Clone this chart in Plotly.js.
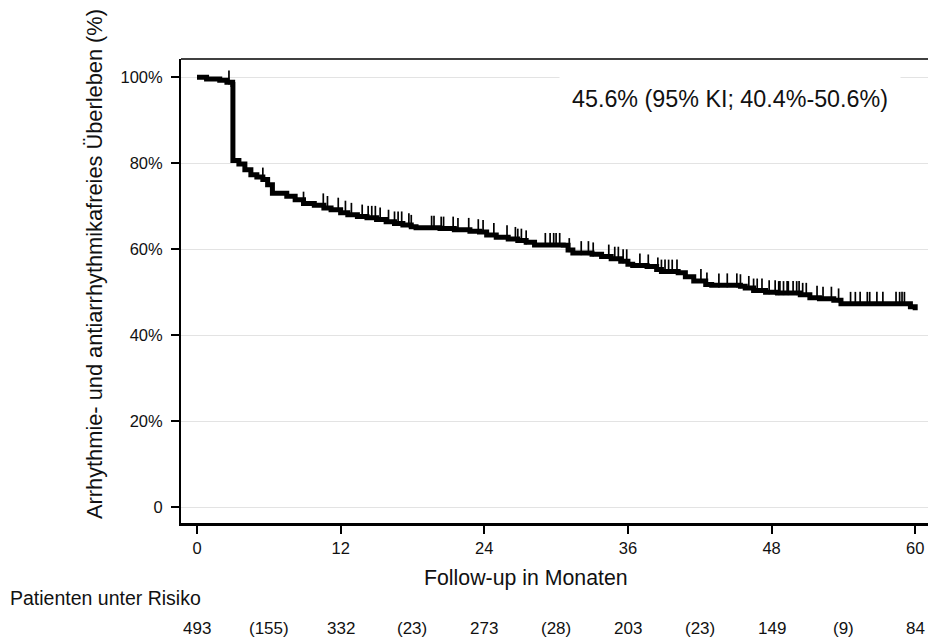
<!DOCTYPE html>
<html>
<head>
<meta charset="utf-8">
<script src="https://cdn.plot.ly/plotly-3.0.1.min.js"></script>
<style>html,body{margin:0;padding:0;background:#fff;}#chart{width:928px;height:641px;}</style>
</head>
<body>
<div id="chart"></div>
<script>
// Kaplan-Meier step curve (months, survival %)
const months = [0, 0.8, 1.9, 2.5, 2.98, 3.0, 3.5, 4.0, 4.5, 5.0, 5.5, 5.9, 6.3, 7.5, 8.2, 8.9, 9.8, 10.6, 11.2, 12.0, 12.6, 13.4, 14.2, 15.0, 15.8, 16.5, 17.2, 17.9, 18.3, 20.3, 21.5, 22.8, 23.6, 24.2, 25.0, 26.0, 26.8, 27.5, 28.2, 30.6, 31.0, 31.4, 33.0, 33.8, 34.6, 35.4, 36.0, 36.4, 37.6, 38.4, 38.8, 40.2, 40.8, 41.5, 42.5, 43.0, 45.4, 45.8, 46.5, 47.5, 48.5, 50.4, 51.2, 52.0, 53.2, 53.8, 59.2, 59.6, 60.0];
const survival = [100, 99.6, 99.3, 98.8, 98.3, 80.6, 79.8, 78.5, 77.3, 76.8, 76.2, 75.0, 73.0, 72.3, 71.5, 70.6, 70.2, 69.6, 69.2, 68.5, 68.0, 67.6, 67.3, 66.9, 66.4, 66.0, 65.6, 65.2, 65.0, 64.8, 64.5, 64.2, 64.0, 63.3, 62.8, 62.4, 62.0, 61.6, 61.0, 60.9, 59.8, 59.1, 58.8, 58.3, 57.8, 57.2, 56.5, 56.2, 56.0, 55.3, 54.8, 54.5, 53.6, 52.6, 51.8, 51.6, 51.4, 51.0, 50.4, 50.0, 49.8, 49.4, 48.7, 48.5, 48.1, 47.3, 47.3, 46.6, 45.8];
// censoring times (months)
const censorMonths = [2.67, 5.5, 8.9, 10.55, 10.9, 11.8, 12.4, 12.9, 13.8, 14.3, 14.6, 14.9, 15.3, 16.0, 16.5, 16.8, 17.1, 17.7, 17.9, 19.6, 19.8, 20.4, 20.6, 21.4, 21.8, 22.7, 23.5, 23.9, 24.8, 25.9, 26.6, 26.8, 27.1, 27.5, 29.1, 29.5, 29.8, 30.0, 30.3, 31.1, 32.1, 32.7, 33.1, 34.4, 34.9, 35.2, 35.6, 35.9, 37.0, 37.7, 38.5, 38.8, 39.1, 39.4, 39.7, 40.1, 42.1, 42.6, 43.6, 44.3, 45.1, 45.4, 46.1, 46.5, 46.8, 47.2, 47.8, 48.3, 48.6, 48.7, 49.0, 49.3, 49.4, 49.8, 50.1, 50.3, 50.6, 50.9, 51.8, 52.3, 53.0, 53.6, 54.6, 55.0, 55.4, 56.0, 56.2, 56.8, 57.3, 58.4, 58.7, 58.9, 59.1];
// x axis ticks
const xTickVals = [0, 12, 24, 36, 48, 60];
const xTickText = ["0", "12", "24", "36", "48", "60"];
// y axis ticks
const yTickVals = [0, 20, 40, 60, 80, 100];
const yTickText = ["0", "20%", "40%", "60%", "80%", "100%"];
// numbers at risk table
const riskMonths = [0, 6, 12, 18, 24, 30, 36, 42, 48, 54, 60];
const riskLabels = ["493", "(155)", "332", "(23)", "273", "(28)", "203", "(23)", "149", "(9)", "84"];
// texts
const yTitle = "Arrhythmie- und antiarrhythmikafreies Überleben (%)";
const xTitle = "Follow-up in Monaten";
const riskTitle = "Patienten unter Risiko";
const estimateText = "45.6% (95% KI; 40.4%-50.6%)";

function survAt(t) {
  let v = survival[0];
  for (let i = 0; i < months.length; i++) { if (months[i] <= t) v = survival[i]; else break; }
  return v;
}
const censorOffset = 1.15; // lift tick marks above line (in % units)
const censorY = censorMonths.map(t => survAt(t) + censorOffset);

const FONT = "Liberation Sans, Arial, sans-serif";
const TXT = "#111111";

const traces = [
  {
    x: months, y: survival, type: "scatter", mode: "lines",
    line: { shape: "hv", color: "#000", width: 5 },
    hoverinfo: "skip", showlegend: false
  },
  {
    x: censorMonths, y: censorY, type: "scatter", mode: "markers",
    marker: { symbol: "line-ns", size: 10, color: "#000", line: { color: "#000", width: 1.7 } },
    hoverinfo: "skip", showlegend: false
  }
];

const annotations = [
  { text: yTitle, xref: "paper", yref: "paper", x: -0.1151, y: 0.5582, xanchor: "center", yanchor: "middle",
    textangle: -90, showarrow: false, font: { family: FONT, size: 21.8, color: TXT } },
  { text: xTitle, xref: "paper", yref: "paper", x: 0.4618, y: -0.1185, xanchor: "center", yanchor: "middle",
    showarrow: false, font: { family: FONT, size: 21.3, color: TXT } },
  { text: riskTitle, xref: "paper", yref: "paper", x: -0.2316, y: -0.1616, xanchor: "left", yanchor: "middle",
    showarrow: false, font: { family: FONT, size: 19.5, color: TXT } },
  { text: estimateText, xref: "paper", yref: "paper", x: 0.7349, y: 0.9138, xanchor: "center", yanchor: "middle",
    showarrow: false, bgcolor: "#ffffff", borderpad: 12, font: { family: FONT, size: 23.3, color: TXT } }
];
riskMonths.forEach((m, i) => {
  annotations.push({ text: riskLabels[i], xref: "x", yref: "paper", x: m, y: -0.2263,
    xanchor: "center", yanchor: "middle", showarrow: false,
    font: { family: FONT, size: 17, color: TXT } });
});

const layout = {
  width: 928, height: 641,
  margin: { l: 181, r: 0, t: 59, b: 118, pad: 0 },
  paper_bgcolor: "#fff", plot_bgcolor: "#fff",
  font: { family: FONT, color: TXT },
  showlegend: false,
  xaxis: {
    range: [-1.337, 61.07], tickvals: xTickVals, ticktext: xTickText,
    ticks: "outside", ticklen: 8, tickwidth: 2, tickcolor: "#000",
    showline: true, linecolor: "#000", linewidth: 2.5,
    showgrid: false, zeroline: false, ticklabelstandoff: 1,
    tickfont: { family: FONT, size: 16.5, color: TXT }
  },
  yaxis: {
    range: [-3.67, 104.23], tickvals: yTickVals, ticktext: yTickText,
    ticks: "outside", ticklen: 8, tickwidth: 1.5, tickcolor: "#000",
    showline: true, linecolor: "#000", linewidth: 2,
    showgrid: true, gridcolor: "#e3e3e3", gridwidth: 1, zeroline: false,
    ticklabelstandoff: 5,
    tickfont: { family: FONT, size: 16.5, color: TXT }
  },
  shapes: [
    { type: "line", xref: "paper", yref: "paper", x0: 0, x1: 1, y0: 1, y1: 1,
      line: { color: "#000", width: 1.5 } }
  ],
  annotations: annotations
};

Plotly.newPlot("chart", traces, layout, { displayModeBar: false, staticPlot: true });
</script>
</body>
</html>
